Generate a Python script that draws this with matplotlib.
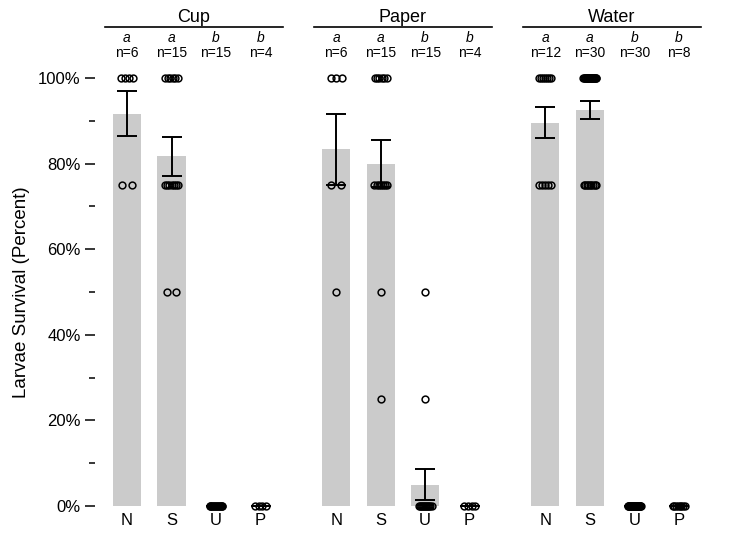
import numpy as np
import matplotlib.pyplot as plt

plt.rcParams['font.family'] = ['Liberation Sans', 'DejaVu Sans']

groups = ['Cup', 'Paper', 'Water']
treatments = ['N', 'S', 'U', 'P']
letters = ['a', 'a', 'b', 'b']

# larvae survival per replicate (percent)
cup = [
    [100, 100, 100, 100, 75, 75],
    [100, 100, 100, 100, 100, 100, 75, 75, 75, 75, 75, 75, 75, 50, 50],
    [0] * 15,
    [0] * 4,
]
paper = [
    [100, 100, 100, 75, 75, 50],
    [100, 100, 100, 100, 100, 100, 75, 75, 75, 75, 75, 75, 75, 50, 25],
    [50, 25] + [0] * 13,
    [0] * 4,
]
water = [
    [100, 100, 100, 100, 100, 100, 100, 75, 75, 75, 75, 75],
    [100] * 21 + [75] * 9,
    [0] * 30,
    [0] * 8,
]
data = [cup, paper, water]

group_gap = 4.7
bar_w = 0.63
bar_col = '#cbcbcb'

fig = plt.figure(figsize=(7.29, 5.37), dpi=100)
# axes placed so that 0% sits at y=506px and 100% at y=78px
ax = fig.add_axes([95 / 729, (537 - 506) / 537, 615 / 729, 428 / 537])
x0 = -32 / 44.5
ax.set_xlim(x0, x0 + 615 / 44.5)
ax.set_ylim(0, 100)

xt, xl = [], []
for g, name in enumerate(groups):
    base = g * group_gap
    for i, vals in enumerate(data[g]):
        vals = np.array(vals, dtype=float)
        x = base + i
        m = vals.mean()
        se = vals.std(ddof=1) / np.sqrt(len(vals))
        ax.bar(x, m, width=bar_w, color=bar_col, zorder=1)
        ax.errorbar(x, m, yerr=se, color='black', lw=1.4, capsize=7.2,
                    capthick=1.4, zorder=3, clip_on=False)
        # spread the dots of each value a little sideways
        for v in np.unique(vals):
            k = int((vals == v).sum())
            h = 0.15 * np.sqrt(1 - 1 / k)
            ax.plot(x + np.linspace(-h, h, k), [v] * k, 'o', ms=4.9,
                    mfc='none', mec='black', mew=1.1, zorder=4, clip_on=False)
        ax.text(x, 109.4, letters[i], ha='center', va='center',
                fontsize=10, style='italic')
        ax.text(x, 105.8, 'n=%d' % len(vals), ha='center', va='center',
                fontsize=10)
        xt.append(x)
        xl.append(treatments[i])
    ax.plot([base - 0.5, base + 3.5], [111.9, 111.9], color='black',
            lw=1.2, clip_on=False)
    ax.text(base + 1.5, 114.1, name, ha='center', va='center', fontsize=13)

ax.set_xticks(xt, xl, fontsize=12)
ax.tick_params(axis='x', length=0, pad=5)
ax.set_yticks([0, 20, 40, 60, 80, 100], ['0%', '20%', '40%', '60%', '80%', '100%'],
              fontsize=12)
ax.set_yticks([10, 30, 50, 70, 90], minor=True)
ax.tick_params(axis='y', which='major', length=7.2, width=1.1, pad=3)
ax.tick_params(axis='y', which='minor', length=4.3, width=1.1)
for s in ax.spines.values():
    s.set_visible(False)
ax.set_ylabel('Larvae Survival (Percent)', fontsize=13.5, labelpad=6)

fig.savefig('out.png', dpi=100)
